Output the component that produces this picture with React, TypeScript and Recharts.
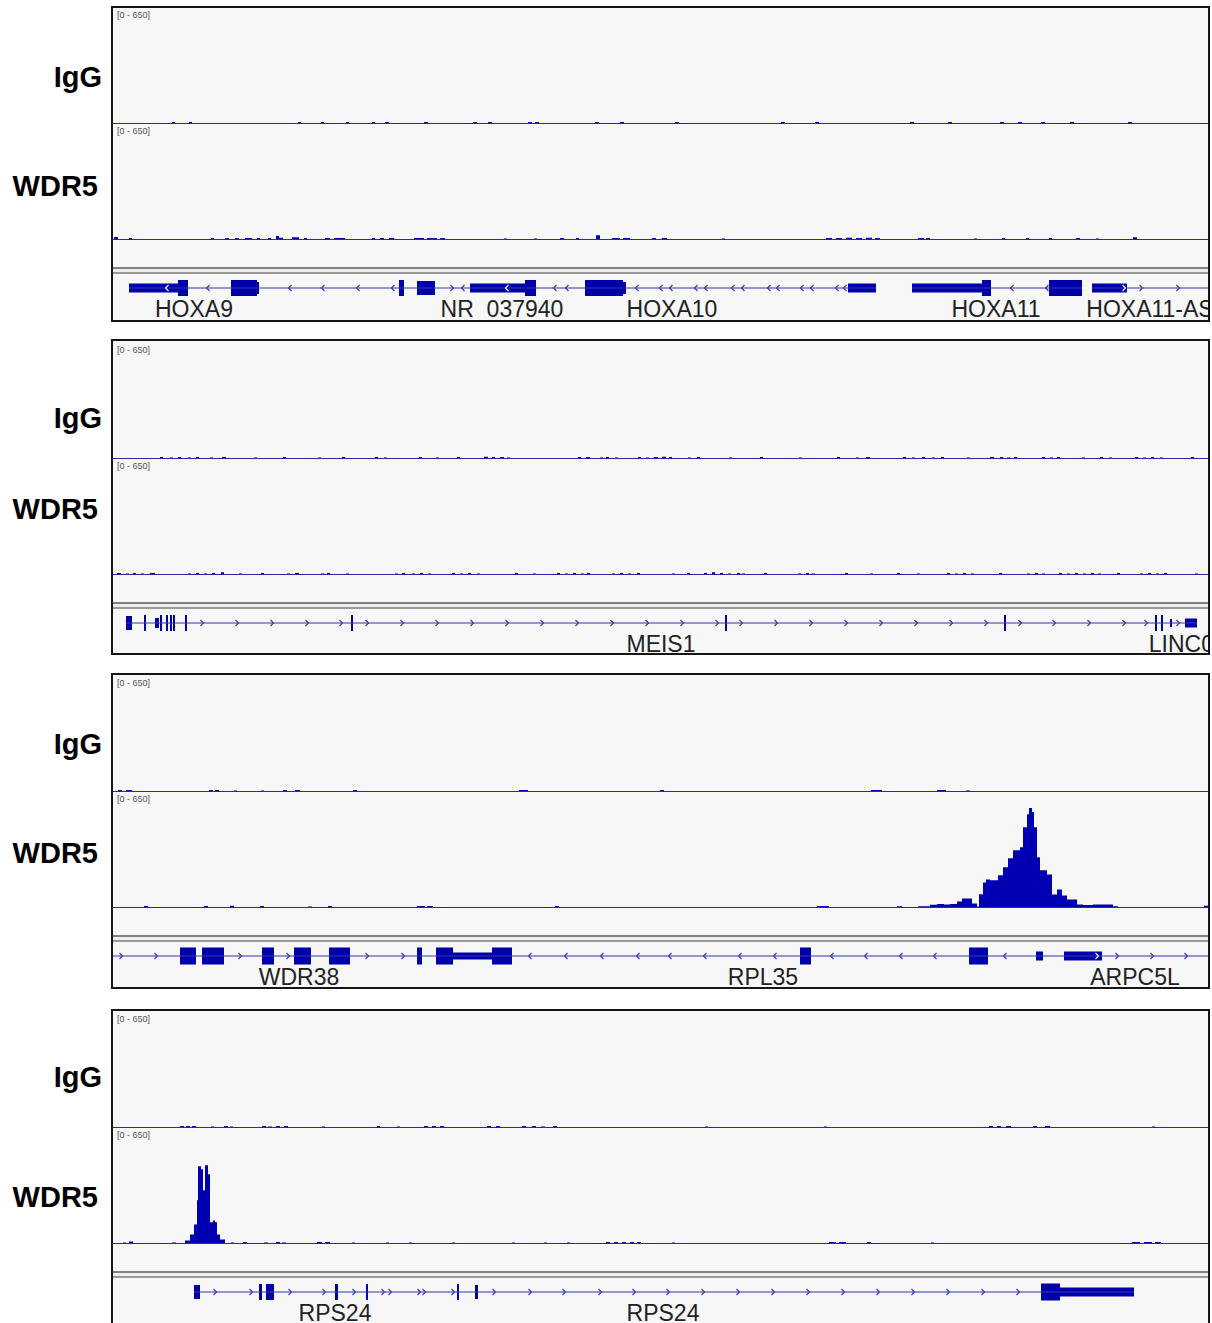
import { AreaChart, Area, XAxis, YAxis, ReferenceLine, ReferenceArea, ScatterChart, Scatter } from "recharts";

// locus coordinates are screen-aligned units across the visible window
const LOCUS_START = 113;
const LOCUS_END = 1208;
const SCALE_MAX = 650;

type Seg = [number, number, number];

// ---- coverage tracks: [start, end, value] ----
const HOXA_IGG: Seg[] = [
  [172, 175, 8], [189, 192, 8], [298, 301, 8], [321, 324, 8], [346, 349, 8], [372, 375, 8], [385, 389, 8],
  [424, 428, 8], [473, 477, 8], [488, 492, 8], [528, 532, 8], [535, 539, 8], [595, 599, 8], [620, 624, 8],
  [675, 679, 8], [781, 785, 8], [815, 819, 8], [910, 914, 8], [948, 952, 8], [1000, 1004, 8], [1018, 1022, 8],
  [1041, 1045, 8], [1070, 1074, 8], [1128, 1132, 8],
];
const HOXA_WDR5: Seg[] = [
  [114, 118, 14], [129, 132, 8], [211, 214, 8], [225, 229, 8], [235, 239, 8], [245, 252, 8], [257, 260, 8],
  [268, 271, 8], [276, 279, 20], [279, 283, 10], [292, 299, 12], [304, 307, 8], [325, 330, 8], [334, 345, 8],
  [372, 375, 8], [380, 384, 8], [389, 394, 8], [414, 424, 8], [427, 437, 8], [440, 445, 8], [504, 507, 6],
  [534, 537, 6], [560, 564, 8], [576, 579, 8], [596, 600, 24], [612, 620, 8], [623, 630, 8], [652, 656, 8],
  [662, 667, 8], [722, 725, 6], [826, 832, 8], [836, 842, 8], [846, 852, 10], [856, 862, 8], [866, 872, 10],
  [875, 880, 8], [918, 924, 8], [926, 930, 8], [974, 977, 6], [1002, 1005, 8], [1026, 1029, 8],
  [1049, 1052, 8], [1076, 1080, 8], [1096, 1099, 6], [1133, 1137, 12],
];
const MEIS_IGG: Seg[] = [
  [160, 163, 8], [170, 173, 6], [178, 181, 8], [188, 191, 6], [196, 199, 8], [210, 213, 6], [222, 226, 8],
  [254, 257, 6], [283, 286, 8], [318, 321, 6], [342, 345, 8], [375, 378, 8], [384, 387, 6], [419, 422, 8],
  [436, 439, 6], [457, 460, 8], [484, 488, 10], [492, 495, 8], [500, 504, 8], [507, 510, 6], [578, 581, 8],
  [586, 590, 8], [600, 603, 6], [606, 609, 8], [615, 618, 6], [638, 641, 8], [646, 649, 6], [654, 658, 8],
  [662, 666, 10], [669, 672, 8], [688, 691, 6], [697, 700, 8], [729, 732, 6], [760, 763, 8], [799, 802, 6],
  [837, 840, 8], [856, 859, 6], [866, 870, 8], [903, 906, 8], [912, 915, 6], [922, 925, 8], [932, 935, 6],
  [941, 944, 8], [967, 970, 6], [990, 994, 8], [1000, 1003, 8], [1007, 1010, 6], [1014, 1017, 8],
  [1042, 1045, 8], [1050, 1053, 6], [1057, 1060, 8], [1082, 1085, 6], [1100, 1103, 8], [1109, 1112, 6],
  [1135, 1138, 8], [1143, 1146, 6], [1151, 1154, 8], [1160, 1163, 6], [1191, 1194, 8],
];
const MEIS_WDR5: Seg[] = [
  [117, 121, 8], [126, 129, 6], [133, 136, 8], [141, 144, 6], [150, 155, 8], [188, 191, 6], [196, 199, 8],
  [204, 207, 6], [212, 215, 8], [221, 224, 12], [239, 242, 6], [261, 264, 8], [287, 290, 6], [295, 299, 8],
  [321, 324, 6], [327, 330, 8], [346, 349, 6], [395, 398, 6], [402, 405, 8], [412, 415, 6], [420, 423, 8],
  [428, 431, 6], [452, 455, 8], [460, 463, 6], [468, 471, 8], [477, 480, 6], [515, 518, 8], [533, 536, 6],
  [557, 560, 8], [565, 568, 6], [573, 576, 8], [581, 584, 6], [587, 590, 8], [612, 615, 6], [620, 623, 8],
  [628, 631, 6], [637, 640, 8], [672, 675, 6], [687, 690, 8], [704, 707, 8], [712, 715, 12], [720, 723, 8],
  [728, 731, 6], [737, 740, 8], [742, 745, 6], [764, 767, 8], [798, 801, 6], [806, 809, 8], [812, 815, 6],
  [845, 848, 8], [870, 873, 6], [897, 900, 8], [917, 920, 6], [947, 950, 8], [955, 958, 6], [963, 966, 8],
  [971, 974, 6], [999, 1002, 8], [1027, 1030, 6], [1035, 1038, 8], [1042, 1045, 6], [1059, 1062, 8],
  [1067, 1070, 6], [1075, 1078, 8], [1083, 1086, 6], [1091, 1094, 8], [1098, 1101, 6], [1117, 1120, 8],
  [1140, 1143, 6], [1148, 1151, 8], [1156, 1159, 6], [1164, 1167, 8], [1195, 1198, 6],
];
const WDR38_IGG: Seg[] = [
  [118, 122, 8], [126, 132, 8], [209, 213, 8], [215, 219, 8], [234, 237, 6], [261, 264, 6], [283, 287, 8],
  [295, 300, 8], [353, 357, 8], [519, 528, 8], [660, 664, 8], [871, 882, 8], [937, 946, 8], [966, 970, 6],
];
const WDR38_WDR5: Seg[] = [
  [144, 148, 8], [204, 208, 8], [230, 234, 10], [260, 264, 8], [308, 312, 6], [328, 332, 8], [417, 425, 8],
  [427, 433, 8], [555, 559, 8], [817, 829, 8], [897, 902, 7], [918, 930, 7], [930, 937, 15], [937, 944, 19],
  [944, 950, 17], [950, 957, 19], [957, 962, 34], [962, 972, 51], [972, 977, 23], [977, 979, 6],
  [979, 983, 75], [983, 986, 140], [986, 990, 158], [990, 998, 153], [998, 1003, 181], [1003, 1008, 226],
  [1008, 1013, 277], [1013, 1020, 322], [1020, 1023, 339], [1023, 1027, 452], [1027, 1029, 525],
  [1029, 1032, 560], [1032, 1034, 537], [1034, 1037, 452], [1037, 1040, 283], [1040, 1047, 209],
  [1047, 1052, 186], [1052, 1057, 73], [1057, 1062, 102], [1062, 1067, 68], [1067, 1077, 45],
  [1077, 1083, 17], [1083, 1093, 14], [1093, 1113, 17], [1113, 1118, 7], [1204, 1208, 10],
];
const RPS_IGG: Seg[] = [
  [180, 184, 8], [186, 190, 8], [192, 196, 8], [211, 214, 6], [224, 228, 8], [230, 233, 6], [262, 266, 8],
  [268, 272, 6], [276, 280, 8], [284, 288, 8], [322, 325, 6], [377, 380, 8], [397, 400, 6], [424, 428, 8],
  [432, 436, 8], [440, 444, 8], [487, 491, 8], [496, 500, 8], [522, 526, 8], [532, 536, 8], [541, 545, 6],
  [553, 557, 8], [705, 708, 6], [824, 827, 6], [989, 993, 8], [997, 1001, 8], [1006, 1011, 8],
  [1033, 1037, 8], [1045, 1050, 8], [1152, 1155, 6],
];
const RPS_WDR5: Seg[] = [
  [123, 126, 6], [129, 133, 11], [172, 176, 6], [185, 190, 17], [190, 194, 51], [194, 197, 107],
  [197, 198, 243], [198, 201, 435], [201, 203, 418], [203, 205, 300], [205, 208, 441], [208, 210, 390],
  [210, 213, 119], [213, 215, 130], [215, 217, 119], [217, 220, 51], [220, 225, 23], [231, 234, 6],
  [243, 247, 8], [264, 268, 6], [276, 280, 8], [282, 286, 6], [317, 322, 8], [325, 330, 8], [352, 355, 6],
  [386, 389, 6], [409, 412, 6], [452, 455, 6], [512, 515, 6], [544, 547, 6], [567, 570, 6], [606, 610, 8],
  [614, 618, 8], [622, 626, 8], [630, 634, 8], [637, 641, 8], [672, 675, 6], [829, 836, 8], [839, 846, 8],
  [867, 871, 8], [931, 934, 6], [1132, 1140, 8], [1144, 1152, 8], [1155, 1161, 8],
];

// ---- gene annotation: introns [start,end], exons [start,end,halfHeight], chevrons [x,dir,inBlock], labels [x,name] ----
const HOXA_INTRONS = [[129, 876], [912, 1082], [1092, 1208]];
const HOXA_EXONS = [
  [129, 178, 4.5], [178, 188, 8], [231, 257, 8], [257, 259, 6], [399, 404, 8], [417, 435, 7], [470, 525, 4.5],
  [525, 536, 8], [585, 623, 8], [623, 626, 6], [848, 876, 4.5], [912, 982, 4.5], [982, 991, 8],
  [1049, 1082, 8], [1092, 1127, 4.5],
];
const HOXA_CHEVRONS = [
  [167, -1, 1], [208, -1, 0], [290, -1, 0], [323, -1, 0], [358, -1, 0], [393, -1, 0], [452, 1, 0],
  [463, -1, 0], [507, -1, 1], [555, -1, 0], [567, -1, 0], [637, -1, 0], [661, -1, 0], [671, -1, 0],
  [696, -1, 0], [706, -1, 0], [733, -1, 0], [743, -1, 0], [769, -1, 0], [778, -1, 0], [802, -1, 0],
  [812, -1, 0], [837, -1, 0], [845, -1, 0], [1012, -1, 0], [1047, -1, 0], [1124, 1, 1], [1141, 1, 0],
  [1178, 1, 0],
];
const HOXA_LABELS: [number, string][] = [[194, "HOXA9"], [502, "NR_037940"], [672, "HOXA10"], [996, "HOXA11"], [1150, "HOXA11-AS"]];

const MEIS_INTRONS = [[126, 1197]];
const MEIS_EXONS = [
  [126, 132, 7], [144, 146, 8], [155, 159, 5], [160, 162, 8], [166, 168, 8], [170, 172, 8], [173, 175, 8],
  [185, 187, 8], [351, 353, 8], [725, 727, 8], [1004, 1006, 8], [1155, 1157, 8], [1161, 1163, 8],
  [1170, 1172, 4], [1185, 1197, 4.5],
];
const MEIS_CHEVRONS = [
  [202, 1, 0], [237, 1, 0], [272, 1, 0], [307, 1, 0], [341, 1, 0], [367, 1, 0], [402, 1, 0], [437, 1, 0],
  [472, 1, 0], [507, 1, 0], [542, 1, 0], [577, 1, 0], [612, 1, 0], [647, 1, 0], [682, 1, 0], [717, 1, 0],
  [741, 1, 0], [776, 1, 0], [811, 1, 0], [846, 1, 0], [881, 1, 0], [916, 1, 0], [951, 1, 0], [986, 1, 0],
  [1020, 1, 0], [1054, 1, 0], [1089, 1, 0], [1124, 1, 0], [1146, 1, 0], [1178, 1, 0],
];
const MEIS_LABELS: [number, string][] = [[661, "MEIS1"], [1207, "LINC01628"]];

const WDR38_INTRONS = [[113, 1208]];
const WDR38_EXONS = [
  [180, 196, 8.5], [202, 224, 8.5], [262, 274, 8.5], [294, 311, 8.5], [329, 350, 8.5], [417, 422, 8.5],
  [436, 453, 8.5], [453, 492, 3.5], [492, 512, 8.5], [800, 811, 8.5], [969, 988, 8.5], [1036, 1043, 4.5],
  [1064, 1102, 4.5],
];
const WDR38_CHEVRONS = [
  [121, 1, 0], [156, 1, 0], [240, 1, 0], [288, 1, 0], [367, 1, 0], [403, 1, 0], [530, -1, 0], [566, -1, 0],
  [602, -1, 0], [638, -1, 0], [670, -1, 0], [705, -1, 0], [740, -1, 0], [775, -1, 0], [832, -1, 0],
  [866, -1, 0], [901, -1, 0], [935, -1, 0], [1005, -1, 0], [1097, 1, 1], [1117, 1, 0], [1152, 1, 0],
  [1186, 1, 0],
];
const WDR38_LABELS: [number, string][] = [[299, "WDR38"], [763, "RPL35"], [1135, "ARPC5L"]];

const RPS_INTRONS = [[194, 1134]];
const RPS_EXONS = [
  [194, 200, 7], [259, 262, 8], [266, 274, 8], [335, 338, 8], [366, 368, 8], [457, 459, 8], [475, 478, 7],
  [1041, 1060, 8.5], [1060, 1134, 4.5],
];
const RPS_CHEVRONS = [
  [215, 1, 0], [251, 1, 0], [290, 1, 0], [324, 1, 0], [354, 1, 0], [383, 1, 0], [390, 1, 0], [419, 1, 0],
  [424, 1, 0], [453, 1, 0], [494, 1, 0], [530, 1, 0], [564, 1, 0], [600, 1, 0], [634, 1, 0], [668, 1, 0],
  [703, 1, 0], [738, 1, 0], [773, 1, 0], [808, 1, 0], [843, 1, 0], [878, 1, 0], [913, 1, 0], [948, 1, 0],
  [983, 1, 0], [1018, 1, 0],
];
const RPS_LABELS: [number, string][] = [[335, "RPS24"], [663, "RPS24"]];

const TRACK_NAMES = ["IgG", "WDR5"];
const SCALE_LABEL = "[0 - 650]";

const SIGNAL = "#0000b2";
const BASELINE = "#2a2aa4";
const GENE = "#0000aa";
const INTRON = "#3535b0";
const TRACK_BG = "#f7f7f8";
const BORDER = "#161616";
const FONT = '"Liberation Sans", Arial, Helvetica, sans-serif';
const INNER_W = LOCUS_END - LOCUS_START;

const PANELS = [
  { top: 6, base: 123, igY: 77, wdY: 186, igg: HOXA_IGG, wdr5: HOXA_WDR5, introns: HOXA_INTRONS, exons: HOXA_EXONS, chevrons: HOXA_CHEVRONS, labels: HOXA_LABELS },
  { top: 339, base: 458, igY: 418, wdY: 509, igg: MEIS_IGG, wdr5: MEIS_WDR5, introns: MEIS_INTRONS, exons: MEIS_EXONS, chevrons: MEIS_CHEVRONS, labels: MEIS_LABELS },
  { top: 673, base: 791, igY: 744, wdY: 853, igg: WDR38_IGG, wdr5: WDR38_WDR5, introns: WDR38_INTRONS, exons: WDR38_EXONS, chevrons: WDR38_CHEVRONS, labels: WDR38_LABELS },
  { top: 1009, base: 1127, igY: 1077, wdY: 1197, igg: RPS_IGG, wdr5: RPS_WDR5, introns: RPS_INTRONS, exons: RPS_EXONS, chevrons: RPS_CHEVRONS, labels: RPS_LABELS },
];

function toSteps(segs: Seg[]) {
  const sorted = [...segs].sort((a, b) => a[0] - b[0]);
  const pts: { x: number; v: number }[] = [{ x: LOCUS_START, v: 0 }];
  sorted.forEach(([s, e, v], i) => {
    pts.push({ x: s, v });
    const next = sorted[i + 1];
    if (!next || next[0] > e) pts.push({ x: e, v: 0 });
  });
  pts.push({ x: LOCUS_END, v: 0 });
  return pts;
}

function CoverageTrack({ segs, top }: { segs: Seg[]; top: number }) {
  return (
    <div style={{ position: "absolute", left: 0, top, width: INNER_W, height: 117 }}>
      <AreaChart width={INNER_W} height={117} data={toSteps(segs)} margin={{ top: 0, right: 0, bottom: 1.5, left: 0 }}>
        <XAxis dataKey="x" type="number" domain={[LOCUS_START, LOCUS_END]} hide allowDataOverflow />
        <YAxis type="number" domain={[0, SCALE_MAX]} hide allowDataOverflow />
        <Area
          dataKey="v"
          type="stepAfter"
          stroke="none"
          fill={SIGNAL}
          fillOpacity={1}
          dot={false}
          activeDot={false}
          isAnimationActive={false}
        />
        <ReferenceLine y={0} stroke={BASELINE} strokeWidth={1} />
      </AreaChart>
      <div style={{ position: "absolute", left: 4, top: 2, fontSize: 9, lineHeight: "11px", color: "#555", fontFamily: FONT, whiteSpace: "nowrap" }}>
        {SCALE_LABEL}
      </div>
    </div>
  );
}

function Chevron(props: any) {
  const { cx, cy, payload } = props;
  const d = payload.dir;
  const c = payload.inBlock ? "#ffffff" : INTRON;
  return (
    <polyline
      points={`${cx - 1.5 * d},${cy - 3} ${cx + 1.5 * d},${cy} ${cx - 1.5 * d},${cy + 3}`}
      fill="none"
      stroke={c}
      strokeWidth={1.1}
    />
  );
}

function GeneLabel(props: any) {
  const { cx, cy, payload } = props;
  return (
    <text x={cx} y={cy} textAnchor="middle" fontFamily={FONT} fontSize={23} fill="#222">
      {payload.name}
    </text>
  );
}

function GeneTrack({ p, top }: { p: (typeof PANELS)[number]; top: number }) {
  const chevrons = p.chevrons.map(([x, dir, inBlock]) => ({ x, y: 0, dir, inBlock }));
  const labels = p.labels.map(([x, name]) => ({ x, y: -29, name }));
  return (
    <div style={{ position: "absolute", left: 0, top, width: INNER_W, height: 54, clipPath: "inset(-4px 0px -30px 0px)" }}>
      <ScatterChart width={INNER_W} height={54} margin={{ top: 0, right: 0, bottom: 0, left: 0 }} style={{ overflow: "visible" }}>
        <XAxis dataKey="x" type="number" domain={[LOCUS_START, LOCUS_END]} hide allowDataOverflow />
        <YAxis dataKey="y" type="number" domain={[-40, 14]} hide allowDataOverflow />
        {p.introns.map(([s, e], i) => (
          <ReferenceLine key={`i${i}`} segment={[{ x: s, y: 0 }, { x: e, y: 0 }]} stroke={INTRON} strokeWidth={1} />
        ))}
        {p.exons.map(([s, e, h], i) => (
          <ReferenceArea key={`e${i}`} x1={s} x2={e} y1={-h} y2={h} fill={GENE} fillOpacity={1} stroke="none" />
        ))}
        <Scatter data={chevrons} shape={Chevron} isAnimationActive={false} />
        <Scatter data={labels} shape={GeneLabel} isAnimationActive={false} />
      </ScatterChart>
    </div>
  );
}

function Panel({ p }: { p: (typeof PANELS)[number] }) {
  const originY = p.top + 2;
  const iggTop = p.base - 115 - originY;
  const wdrTop = iggTop + 116;
  const sep = p.base + 144 - originY;
  return (
    <>
      <div
        style={{
          position: "absolute",
          left: 113,
          top: originY,
          width: INNER_W,
          height: 312,
          background: TRACK_BG,
        }}
      >
        <div style={{ position: "absolute", left: 0, top: 0, width: INNER_W, height: 312, overflow: "hidden" }}>
          <CoverageTrack segs={p.igg} top={iggTop} />
          <CoverageTrack segs={p.wdr5} top={wdrTop} />
          <div style={{ position: "absolute", left: 0, top: sep, width: INNER_W, height: 2, background: "#808080" }} />
          <div style={{ position: "absolute", left: 0, top: sep + 2, width: INNER_W, height: 3, background: "#ececec" }} />
          <div style={{ position: "absolute", left: 0, top: sep + 5, width: INNER_W, height: 2, background: "#999" }} />
        </div>
        <GeneTrack p={p} top={p.base + 151 - originY} />
      </div>
      {/* frame drawn on top so the gene labels sit just under the bottom edge like in IGV */}
      <div
        style={{
          position: "absolute",
          left: 111,
          top: p.top,
          width: 1099,
          height: 316,
          boxSizing: "border-box",
          border: `2px solid ${BORDER}`,
          pointerEvents: "none",
        }}
      />
      <div style={labelStyle(p.igY, 102)}>{TRACK_NAMES[0]}</div>
      <div style={labelStyle(p.wdY, 98)}>{TRACK_NAMES[1]}</div>
    </>
  );
}

function labelStyle(y: number, right: number): React.CSSProperties {
  return {
    position: "absolute",
    right: 1212 - right,
    top: y - 17,
    lineHeight: "34px",
    fontFamily: FONT,
    fontWeight: 700,
    fontSize: 29,
    color: "#000",
    whiteSpace: "nowrap",
  };
}

export default function App() {
  return (
    <div style={{ position: "absolute", left: 0, top: 0, width: 1212, height: 1323, background: "#fff", overflow: "hidden" }}>
      {PANELS.map((p, i) => (
        <Panel key={i} p={p} />
      ))}
    </div>
  );
}
